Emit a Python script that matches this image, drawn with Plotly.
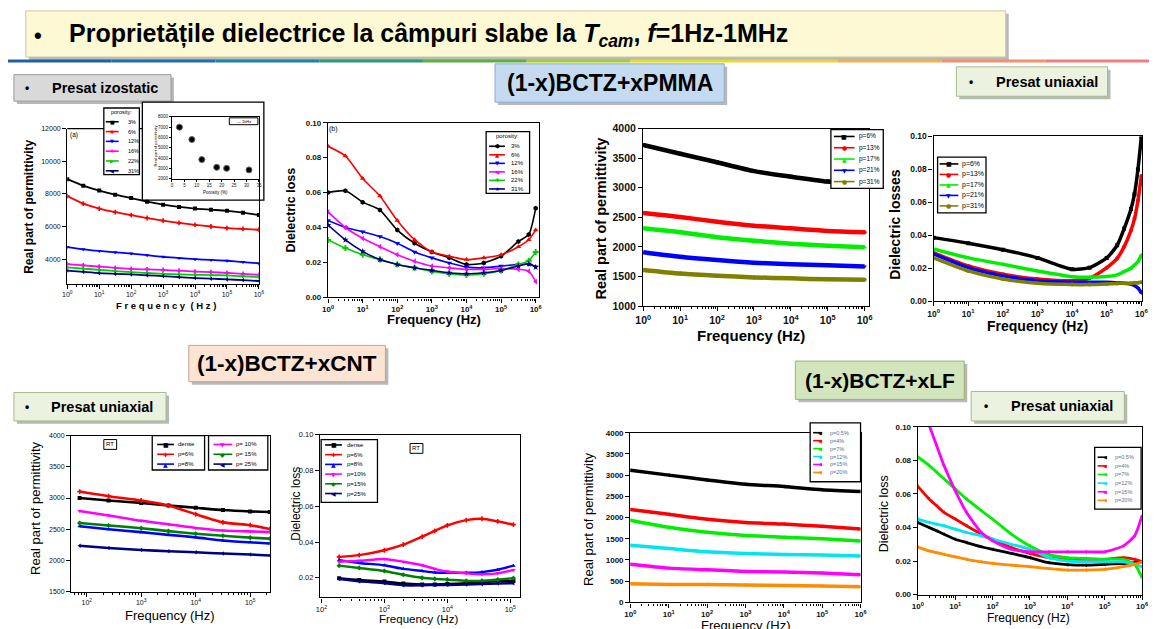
import plotly.graph_objects as go

W, H = 1155, 629


def X(p):
    return p / W


def Y(p):
    return 1 - p / H


# ---------------- DATA ----------------
# (a) isostatic pressed, real permittivity
freq_a = [1, 3.16, 10, 31.6, 100, 316, 1e3, 3162, 1e4, 31623, 1e5, 316228, 1e6]
perm_a_3 = [8900, 8500, 8200, 7950, 7740, 7520, 7340, 7200, 7100, 7030, 6960, 6850, 6700]
perm_a_6 = [7860, 7400, 7100, 6880, 6700, 6520, 6360, 6220, 6100, 6000, 5900, 5850, 5800]
perm_a_12 = [4740, 4600, 4500, 4420, 4340, 4240, 4140, 4070, 4000, 3950, 3900, 3820, 3740]
perm_a_16 = [3700, 3620, 3540, 3470, 3400, 3370, 3340, 3290, 3240, 3200, 3160, 3100, 3040]
perm_a_22 = [3500, 3420, 3340, 3270, 3200, 3150, 3100, 3070, 3040, 3020, 3000, 2950, 2900]
perm_a_31 = [3300, 3220, 3140, 3100, 3060, 3010, 2960, 2900, 2840, 2800, 2760, 2710, 2660]
porosity_labels_a = ["3%", "6%", "12%", "16%", "22%", "31%"]

# inset: permittivity vs porosity
inset_porosity = [3, 8, 12, 18, 22, 31]
inset_perm = [7000, 5800, 3850, 3100, 3000, 2850]

# (b) isostatic pressed, dielectric loss
freq_b = [1, 3.16, 10, 31.6, 100, 316, 1e3, 3162, 1e4, 31623, 1e5, 316228, 630957, 1e6]
loss_b_3 = [0.060, 0.061, 0.0545, 0.050, 0.0385, 0.031, 0.026, 0.0226, 0.0188, 0.0197, 0.0235, 0.032, 0.036, 0.051]
loss_b_6 = [0.0865, 0.081, 0.068, 0.058, 0.044, 0.033, 0.026, 0.0235, 0.0216, 0.0226, 0.0244, 0.029, 0.033, 0.0385]
loss_b_12 = [0.044, 0.040, 0.0376, 0.0348, 0.031, 0.026, 0.0226, 0.0197, 0.0173, 0.0169, 0.0179, 0.0188, 0.019, 0.0175]
loss_b_16 = [0.0489, 0.040, 0.0338, 0.029, 0.0244, 0.0207, 0.0179, 0.0169, 0.016, 0.016, 0.0165, 0.016, 0.015, 0.009]
loss_b_22 = [0.0329, 0.0282, 0.0244, 0.0216, 0.0188, 0.0169, 0.015, 0.0135, 0.0128, 0.0135, 0.0154, 0.0188, 0.021, 0.026]
loss_b_31 = [0.0414, 0.0329, 0.0263, 0.0216, 0.0188, 0.0169, 0.0154, 0.0141, 0.0135, 0.0141, 0.0154, 0.0179, 0.0192, 0.0173]

# PMMA, real permittivity
freq_c = [1, 10, 100, 1e3, 1e4, 1e5, 1e6]
perm_c_6 = [3724, 3575, 3431, 3282, 3188, 3105, 3061]
perm_c_13 = [2575, 2508, 2425, 2359, 2315, 2271, 2249]
perm_c_17 = [2315, 2249, 2166, 2105, 2055, 2022, 1994]
perm_c_21 = [1912, 1834, 1779, 1735, 1707, 1691, 1669]
perm_c_31 = [1613, 1552, 1514, 1486, 1470, 1453, 1448]
labels_c = ["p=6%", "p=13%", "p=17%", "p=21%", "p=31%"]

# PMMA, dielectric losses
freq_d = [1, 10, 100, 1e3, 1e4, 31623, 1e5, 199526, 316228, 501187, 630957, 794328, 1e6]
loss_d_6 = [0.0386, 0.0352, 0.0313, 0.0263, 0.0194, 0.0204, 0.0263, 0.034, 0.044, 0.056, 0.065, 0.080, 0.100]
loss_d_13 = [0.0293, 0.0214, 0.0164, 0.0135, 0.0125, 0.014, 0.0204, 0.026, 0.033, 0.043, 0.050, 0.061, 0.076]
loss_d_17 = [0.0317, 0.0263, 0.0224, 0.0184, 0.0149, 0.0145, 0.015, 0.016, 0.018, 0.020, 0.022, 0.024, 0.028]
loss_d_21 = [0.0287, 0.0204, 0.0154, 0.0125, 0.0115, 0.0115, 0.0115, 0.0112, 0.011, 0.0105, 0.0095, 0.008, 0.005]
loss_d_31 = [0.0263, 0.0184, 0.0135, 0.0109, 0.0101, 0.0101, 0.0105, 0.0108, 0.011, 0.011, 0.0112, 0.0113, 0.0115]

# CNT, real permittivity
freq_e = [74, 251, 1e3, 3162, 1e4, 31623, 1e5, 229087]
perm_e_dense = [3000, 2960, 2922, 2880, 2844, 2807, 2785, 2776]
perm_e_6 = [3104, 3030, 2960, 2880, 2740, 2610, 2565, 2505]
perm_e_8 = [2547, 2500, 2453, 2410, 2370, 2320, 2290, 2271]
perm_e_10 = [2792, 2720, 2635, 2580, 2520, 2479, 2465, 2453]
perm_e_15 = [2599, 2560, 2516, 2470, 2427, 2395, 2365, 2349]
perm_e_25 = [2234, 2200, 2167, 2148, 2130, 2110, 2095, 2078]
labels_e = ["dense", "p=6%", "p=8%", "p= 10%", "p= 15%", "p= 25%"]

# CNT, dielectric loss
freq_f = [191, 398, 1e3, 1995, 3981, 6310, 1e4, 19953, 35481, 63096, 112202]
loss_f_dense = [0.0198, 0.0188, 0.018, 0.0168, 0.0163, 0.0163, 0.0165, 0.017, 0.0175, 0.0182, 0.0182]
loss_f_6 = [0.0317, 0.0327, 0.0354, 0.0385, 0.0430, 0.0462, 0.0493, 0.0522, 0.0530, 0.0515, 0.0497]
loss_f_8 = [0.0299, 0.0283, 0.027, 0.025, 0.0238, 0.023, 0.0228, 0.0228, 0.0232, 0.0245, 0.0268]
loss_f_10 = [0.029, 0.0295, 0.0305, 0.029, 0.027, 0.025, 0.0235, 0.0225, 0.022, 0.0225, 0.0244]
loss_f_15 = [0.0268, 0.0255, 0.0238, 0.0217, 0.020, 0.0194, 0.019, 0.0183, 0.0183, 0.019, 0.0198]
loss_f_25 = [0.0193, 0.0180, 0.017, 0.0158, 0.0158, 0.016, 0.016, 0.0162, 0.0165, 0.0168, 0.017]
labels_f = ["dense", "p=6%", "p=8%", "p=10%", "p=15%", "p=25%"]

# LF, real permittivity
freq_g = [1, 10, 100, 1e3, 1e4, 1e5, 1e6]
perm_g_05 = [3115, 3000, 2885, 2785, 2731, 2654, 2615]
perm_g_4 = [2192, 2077, 1962, 1885, 1846, 1792, 1731]
perm_g_7 = [1938, 1769, 1654, 1577, 1538, 1500, 1446]
perm_g_12 = [1346, 1269, 1192, 1154, 1131, 1115, 1092]
perm_g_15 = [900, 808, 769, 731, 715, 692, 654]
perm_g_20 = [438, 423, 423, 408, 400, 385, 369]
labels_g = ["p=0.5%", "p=4%", "p=7%", "p=12%", "p=15%", "p=20%"]

# LF, dielectric loss
freq_h = [1, 2, 3.16, 5, 10, 20, 50, 100, 316, 1e3, 3162, 1e4, 31623, 1e5, 316228, 630957, 1e6]
loss_h_05 = [0.043, 0.040, 0.038, 0.036, 0.033, 0.031, 0.0285, 0.027, 0.0245, 0.022, 0.019, 0.0178, 0.0175, 0.018, 0.0185, 0.019, 0.0195]
loss_h_4 = [0.0645, 0.057, 0.053, 0.049, 0.045, 0.041, 0.036, 0.033, 0.028, 0.0245, 0.022, 0.021, 0.021, 0.021, 0.022, 0.021, 0.0195]
loss_h_7 = [0.082, 0.077, 0.073, 0.069, 0.063, 0.057, 0.050, 0.045, 0.036, 0.029, 0.024, 0.022, 0.0215, 0.021, 0.021, 0.018, 0.010]
loss_h_12 = [0.045, 0.043, 0.042, 0.041, 0.039, 0.037, 0.035, 0.033, 0.030, 0.027, 0.022, 0.020, 0.0195, 0.0195, 0.0195, 0.018, 0.0166]
loss_h_15 = [None, 0.101, 0.089, 0.077, 0.062, 0.049, 0.037, 0.032, 0.027, 0.0255, 0.0255, 0.0255, 0.0255, 0.0255, 0.029, 0.035, 0.047]
loss_h_20 = [0.0283, 0.026, 0.025, 0.024, 0.0225, 0.021, 0.0195, 0.0186, 0.0175, 0.0166, 0.0155, 0.0146, 0.0146, 0.015, 0.0166, 0.018, 0.0195]

decade_labels = ["10<sup>%d</sup>" % k for k in range(7)]

# ---------------- FIGURE ----------------
fig = go.Figure()
layout = {}
shapes = []
annots = []
TICKFONT = "Liberation Sans, Arial, sans-serif"
BOXFONT = "Liberation Sans, Arial, sans-serif"


def minor_vals(d0, d1):
    return [k * 10 ** d for d in range(d0, d1 + 1) for k in range(2, 10)]


def make_axes(n, xpx, ypx, xr, yr, xtv, xtt, ytv, ytt, fs, xlog=True, mirror_x=True, lw=1.4, bold=False):
    sfx = "" if n == 1 else str(n)
    tf = dict(size=fs, family=TICKFONT, color="#111", weight="bold" if bold else "normal")
    xa = dict(domain=[X(xpx[0]), X(xpx[1])], range=xr, type="log" if xlog else "linear",
              anchor="y" + sfx, tickmode="array", tickvals=xtv, ticktext=xtt,
              showline=True, linecolor="black", linewidth=lw, mirror=mirror_x,
              ticks="outside", ticklen=4, tickwidth=1, tickcolor="black",
              tickfont=tf, showgrid=False, zeroline=False)
    if xlog:
        xa["minor"] = dict(tickmode="array", tickvals=minor_vals(-1, 6), ticks="outside",
                           ticklen=2, tickcolor="black", showgrid=False)
    ya = dict(domain=[Y(ypx[1]), Y(ypx[0])], range=yr, anchor="x" + sfx,
              tickmode="array", tickvals=ytv, ticktext=ytt,
              showline=True, linecolor="black", linewidth=lw, mirror=True,
              ticks="outside", ticklen=4, tickwidth=1, tickcolor="black",
              tickfont=tf, showgrid=False, zeroline=False)
    layout["xaxis" + sfx] = xa
    layout["yaxis" + sfx] = ya


def add_series(n, x, ys, colors, symbols, lw=2.2, ms=4.5):
    sfx = "" if n == 1 else str(n)
    for y, c, s in zip(ys, colors, symbols):
        fig.add_trace(go.Scatter(x=x, y=y, xaxis="x" + sfx, yaxis="y" + sfx,
                                 mode="lines+markers", line=dict(color=c, width=lw, shape="spline", smoothing=0.6),
                                 marker=dict(symbol=s, size=ms, color=c),
                                 connectgaps=False, showlegend=False, hoverinfo="skip"))


SYM = {"square": "■", "circle": "●", "triangle-up": "▲", "triangle-down": "▼",
       "triangle-left": "◀", "triangle-right": "▶", "cross": "✚", "star": "★",
       "diamond": "◆", "hexagon": "⬢", "cross-thin": "+"}


def add_legend(box, labels, colors, symbols, y0, dy, gx0, gx1, lx, fs,
               title=None, title_y=None, tcolor="black", dash="solid", gfs=None):
    shapes.append(dict(type="rect", xref="paper", yref="paper", x0=X(box[0]), x1=X(box[2]),
                       y0=Y(box[3]), y1=Y(box[1]), fillcolor="white",
                       line=dict(color="black", width=1.3), layer="above"))
    if title:
        annots.append(dict(x=X((box[0] + box[2]) / 2), y=Y(title_y), xref="paper", yref="paper",
                           text=title, showarrow=False, xanchor="center", yanchor="middle",
                           font=dict(size=fs, family=TICKFONT, color="black")))
    for k, (lab, c, s) in enumerate(zip(labels, colors, symbols)):
        yy = y0 + k * dy
        shapes.append(dict(type="line", xref="paper", yref="paper", x0=X(gx0), x1=X(gx1),
                           y0=Y(yy), y1=Y(yy), line=dict(color=c, width=1.6, dash=dash), layer="above"))
        annots.append(dict(x=X((gx0 + gx1) / 2), y=Y(yy), xref="paper", yref="paper",
                           text=SYM.get(s, "■"), showarrow=False, xanchor="center", yanchor="middle",
                           font=dict(size=gfs or fs, color=c, family="DejaVu Sans")))
        annots.append(dict(x=X(lx), y=Y(yy), xref="paper", yref="paper", text=lab,
                           showarrow=False, xanchor="left", yanchor="middle",
                           font=dict(size=fs, family=TICKFONT, color=tcolor)))


def text(xp, yp, t, size, bold=True, angle=0, color="black", family=TICKFONT, anchor="center"):
    annots.append(dict(x=X(xp), y=Y(yp), xref="paper", yref="paper",
                       text="<b>%s</b>" % t if bold else t, showarrow=False,
                       xanchor=anchor, yanchor="middle", textangle=angle,
                       font=dict(size=size, family=family, color=color)))


def box(x0, y0, x1, y1, fill, border, shadow=True):
    if shadow:
        shapes.append(dict(type="rect", xref="paper", yref="paper", x0=X(x0 + 3), x1=X(x1 + 3),
                           y0=Y(y1 + 3), y1=Y(y0 + 3), fillcolor="#b8b8b8",
                           line=dict(width=0), layer="below"))
    shapes.append(dict(type="rect", xref="paper", yref="paper", x0=X(x0), x1=X(x1),
                       y0=Y(y1), y1=Y(y0), fillcolor=fill,
                       line=dict(color=border, width=1), layer="below"))


# ---------- header ----------
box(18, 5, 1010, 52, "#fcf9d4", "#c9c6a6")
text(30, 30, "•", 22)
text(60, 30, "Proprietățile dielectrice la câmpuri slabe la <i>T<sub>cam</sub></i>, <i>f</i>=1Hz-1MHz",
     25, family=BOXFONT, anchor="left")
seg_colors = ["#1f5fa8", "#1f6fb0", "#1f82a8", "#2a9a7a", "#5cb040", "#a8cc30", "#e0e020",
              "#f0d040", "#f4b050", "#f29070", "#f08080"]
nseg = len(seg_colors)
for i, c in enumerate(seg_colors):
    shapes.append(dict(type="line", xref="paper", yref="paper", x0=i / nseg, x1=(i + 1) / nseg,
                       y0=Y(56), y1=Y(56), line=dict(color=c, width=3), layer="below"))

box(6, 70, 165, 97, "#d9d9d9", "#9a9a9a")
text(19, 83.5, "•", 12)
text(43, 83.5, "Presat izostatic", 14.5, family=BOXFONT, anchor="left")
box(493, 59, 725, 98, "#c4daf0", "#8faacb")
text(609, 78.5, "(1-x)BCTZ+xPMMA", 23, family=BOXFONT)
box(960, 62, 1113, 92, "#ebf2df", "#a9bb8a")
text(975, 77, "•", 12)
text(998, 77, "Presat uniaxial", 14.5, family=BOXFONT, anchor="left")
box(183, 346, 382, 383, "#fbe4d4", "#c4a48e")
text(282.5, 364.5, "(1-x)BCTZ+xCNT", 22.5, family=BOXFONT)
box(6, 394, 160, 423, "#ebf2df", "#a9bb8a")
text(19, 408.5, "•", 12)
text(42, 408.5, "Presat uniaxial", 14.5, family=BOXFONT, anchor="left")
box(797, 362, 968, 401, "#d3e5bd", "#9bb274")
text(882.5, 381.5, "(1-x)BCTZ+xLF", 21, family=BOXFONT)
box(975, 393, 1130, 423, "#ebf2df", "#a9bb8a")
text(990, 408, "•", 12)
text(1013, 408, "Presat uniaxial", 14.5, family=BOXFONT, anchor="left")

# ---------- panel A ----------
cols6 = ["black", "red", "blue", "magenta", "#00cc00", "#000080"]
make_axes(1, (60, 254), (125, 283), [0, 6], [2500, 12000],
          [10 ** k for k in range(7)], decade_labels,
          [4000, 6000, 8000, 10000, 12000], ["4000", "6000", "8000", "10000", "12000"], 7,
          mirror_x=False)
add_series(1, freq_a, [perm_a_3, perm_a_6, perm_a_12, perm_a_16, perm_a_22, perm_a_31], cols6,
           ["square", "cross", "triangle-down", "cross", "triangle-right", "triangle-left"], lw=1.8, ms=4)
shapes.append(dict(type="line", xref="paper", yref="paper", x0=X(60), x1=X(136), y0=Y(125), y1=Y(125),
                   line=dict(color="black", width=1.4), layer="above"))
text(67, 131, "(a)", 6.5, bold=False)
text(21, 205, "Real part of permittivity", 12, angle=-90)
text(160, 305, "F r e q u e n c y  ( H z )", 9.5)
add_legend((97, 104, 133, 172), porosity_labels_a, cols6,
           ["square", "cross", "triangle-down", "cross", "triangle-right", "triangle-left"],
           118, 10, 99, 112, 119, 5.5, title="porosity:", title_y=108, gfs=5)

# inset frame + inset axes
shapes.append(dict(type="rect", xref="paper", yref="paper", x0=X(136), x1=X(259), y0=Y(198), y1=Y(98),
                   fillcolor="white", line=dict(color="black", width=1.3), layer="below"))
make_axes(9, (166, 254), (113, 176), [0, 35], [2000, 8000],
          [0, 5, 10, 15, 20, 25, 30, 35], ["0", "5", "10", "15", "20", "25", "30", "35"],
          [2000, 3000, 4000, 5000, 6000, 7000, 8000], ["2000", "3000", "4000", "5000", "6000", "7000", "8000"],
          4.5, xlog=False, lw=1.2)
layout["xaxis9"]["ticklen"] = 2
layout["yaxis9"]["ticklen"] = 2
fig.add_trace(go.Scatter(x=inset_porosity, y=inset_perm, xaxis="x9", yaxis="y9", mode="markers",
                         marker=dict(symbol="circle", size=6, color="black",
                                     line=dict(color="#666", width=1)),
                         showlegend=False, hoverinfo="skip"))
text(149, 143, "Real part of permittivity", 4, bold=False, angle=-90)
text(210, 190, "Porosity (%)", 4.5, bold=False)
shapes.append(dict(type="rect", xref="paper", yref="paper", x0=X(224), x1=X(253), y0=Y(121), y1=Y(114),
                   fillcolor="white", line=dict(color="black", width=1), layer="above"))
text(238.5, 117.5, "— 1kHz", 4, bold=False)

# ---------- panel B ----------
make_axes(2, (324, 538), (119, 297), [0, 6.11], [0, 0.1],
          [10 ** k for k in range(7)], decade_labels,
          [0, 0.02, 0.04, 0.06, 0.08, 0.10], ["0.00", "0.02", "0.04", "0.06", "0.08", "0.10"], 8,
          bold=True)
sym_b = ["hexagon", "triangle-up", "triangle-down", "triangle-left", "cross", "star"]
add_series(2, freq_b, [loss_b_3, loss_b_6, loss_b_12, loss_b_16, loss_b_22, loss_b_31], cols6, sym_b,
           lw=1.6, ms=5)
text(329, 125, "(b)", 7, bold=False)
text(287, 208, "Dielectric loss", 12.5, angle=-90)
text(431, 320, "Frequency (Hz)", 13)
add_legend((484, 128, 528, 191), porosity_labels_a, cols6, sym_b,
           143, 8.7, 487, 503, 507, 6, title="porosity:", title_y=133, gfs=5.5)

# ---------- panel C ----------
cols5 = ["black", "red", "#00ee00", "blue", "#808000"]
sym_c = ["square", "circle", "triangle-up", "triangle-down", "circle"]
make_axes(3, (643, 872), (125, 306), [0, 6.13], [1000, 4000],
          [10 ** k for k in range(7)], decade_labels,
          [1000, 1500, 2000, 2500, 3000, 3500, 4000],
          ["1000", "1500", "2000", "2500", "3000", "3500", "4000"], 10.5, bold=True)
add_series(3, freq_c, [perm_c_6, perm_c_13, perm_c_17, perm_c_21, perm_c_31], cols5, sym_c, lw=4.5, ms=4)
text(600, 217, "Real part of permittivity", 14.5, angle=-90)
text(752, 336, "Frequency (Hz)", 15)
add_legend((833, 126, 886, 186), labels_c, cols5, sym_c, 133, 11.5, 836, 857, 859, 6.5, gfs=6)

# ---------- panel D ----------
make_axes(4, (937, 1148), (133, 301), [0, 6.02], [0, 0.1],
          [10 ** k for k in range(7)], decade_labels,
          [0, 0.02, 0.04, 0.06, 0.08, 0.10], ["0.00", "0.02", "0.04", "0.06", "0.08", "0.10"], 8.5,
          bold=True)
add_series(4, freq_d, [loss_d_6, loss_d_13, loss_d_17, loss_d_21, loss_d_31], cols5, sym_c, lw=3.5, ms=4)
text(898, 223, "Dielectric losses", 14, angle=-90)
text(1042, 326, "Frequency (Hz)", 14)
add_legend((941, 154, 990, 211), labels_c, cols5, sym_c, 161, 10.7, 943, 962, 964, 7, gfs=6)

# ---------- panel E ----------
cols6e = ["black", "red", "blue", "magenta", "green", "#000080"]
sym_e = ["square", "cross", "triangle-up", "triangle-down", "diamond", "triangle-left"]
make_axes(5, (64, 265), (438, 597), [1.715, 5.36], [1500, 4000],
          [1e2, 1e3, 1e4, 1e5], ["10<sup>2</sup>", "10<sup>3</sup>", "10<sup>4</sup>", "10<sup>5</sup>"],
          [1500, 2000, 2500, 3000, 3500, 4000], ["1500", "2000", "2500", "3000", "3500", "4000"], 7)
add_series(5, freq_e, [perm_e_dense, perm_e_6, perm_e_8, perm_e_10, perm_e_15, perm_e_25], cols6e, sym_e,
           lw=2.6, ms=4)
text(28, 512, "Real part of permittivity", 13, bold=False, angle=-90)
text(164, 621, "Frequency (Hz)", 13, bold=False)
add_legend((146, 438, 199, 473), labels_e[:3], cols6e[:3], sym_e[:3], 447, 10, 151, 168, 170, 6, gfs=6)
add_legend((203, 438, 263, 473), labels_e[3:], cols6e[3:], sym_e[3:], 447, 10, 208, 227, 229, 6, gfs=6)
shapes.append(dict(type="rect", xref="paper", yref="paper", x0=X(97), x1=X(110), y0=Y(452), y1=Y(442),
                   fillcolor="white", line=dict(color="black", width=1), layer="above"))
text(103.5, 447, "RT", 6, bold=False)

# ---------- panel F ----------
make_axes(6, (316, 518), (437, 603), [1.98, 5.15], [0.009, 0.1],
          [1e2, 1e3, 1e4, 1e5], ["10<sup>2</sup>", "10<sup>3</sup>", "10<sup>4</sup>", "10<sup>5</sup>"],
          [0.02, 0.04, 0.06, 0.08, 0.10], ["0.02", "0.04", "0.06", "0.08", "0.10"], 7.5)
add_series(6, freq_f, [loss_f_dense, loss_f_6, loss_f_8, loss_f_10, loss_f_15, loss_f_25], cols6e, sym_e,
           lw=2.4, ms=4)
text(292, 507, "Dielectric loss", 12, bold=False, angle=-90)
text(416, 625, "Frequency (Hz)", 11.5, bold=False)
add_legend((317, 442, 374, 506), labels_f, cols6e, sym_e, 447.5, 9.9, 321, 338, 341, 6, gfs=6)
shapes.append(dict(type="rect", xref="paper", yref="paper", x0=X(407), x1=X(420), y0=Y(456), y1=Y(446),
                   fillcolor="white", line=dict(color="black", width=1), layer="above"))
text(413.5, 451, "RT", 6, bold=False)

# ---------- panel G ----------
cols6g = ["black", "red", "#00ee00", "#00e5ee", "magenta", "#ff8c00"]
sym_g = ["triangle-left"] * 6
make_axes(7, (630, 863), (435, 608), [0, 6], [0, 4000],
          [10 ** k for k in range(7)], decade_labels,
          [0, 500, 1000, 1500, 2000, 2500, 3000, 3500, 4000],
          ["0", "500", "1000", "1500", "2000", "2500", "3000", "3500", "4000"], 8, bold=True)
add_series(7, freq_g, [perm_g_05, perm_g_4, perm_g_7, perm_g_12, perm_g_15, perm_g_20], cols6g, sym_g,
           lw=3.5, ms=3.5)
text(587, 523, "Real part of permittivity", 13, bold=False, angle=-90)
text(747, 632, "Frequency (Hz)", 13, bold=False)
add_legend((812, 425, 863, 485), labels_g, cols6g, sym_g, 435, 8.1, 815, 828, 830, 5.5,
           tcolor="#5a6ea0", dash="dash", gfs=5)

# ---------- panel H ----------
make_axes(8, (921, 1148), (429, 600), [0, 6], [0, 0.1],
          [10 ** k for k in range(7)], decade_labels,
          [0, 0.02, 0.04, 0.06, 0.08, 0.10], ["0.00", "0.02", "0.04", "0.06", "0.08", "0.10"], 8,
          bold=True)
add_series(8, freq_h, [loss_h_05, loss_h_4, loss_h_7, loss_h_12, loss_h_15, loss_h_20], cols6g, sym_g,
           lw=2.8, ms=3.5)
text(887, 518, "Dielectric loss", 12.5, bold=False, angle=-90)
text(1033, 623.5, "Frequency (Hz)", 12, bold=False)
add_legend((1100, 450, 1147, 513), labels_g, cols6g, sym_g, 460, 8.8, 1103, 1117, 1119, 5.5,
           tcolor="#5a6ea0", dash="dash", gfs=5)

fig.update_layout(**layout)
fig.update_layout(width=W, height=H, margin=dict(l=0, r=0, t=0, b=0),
                  paper_bgcolor="white", plot_bgcolor="rgba(0,0,0,0)",
                  shapes=shapes, annotations=annots, showlegend=False)
fig.write_html("out.html")
